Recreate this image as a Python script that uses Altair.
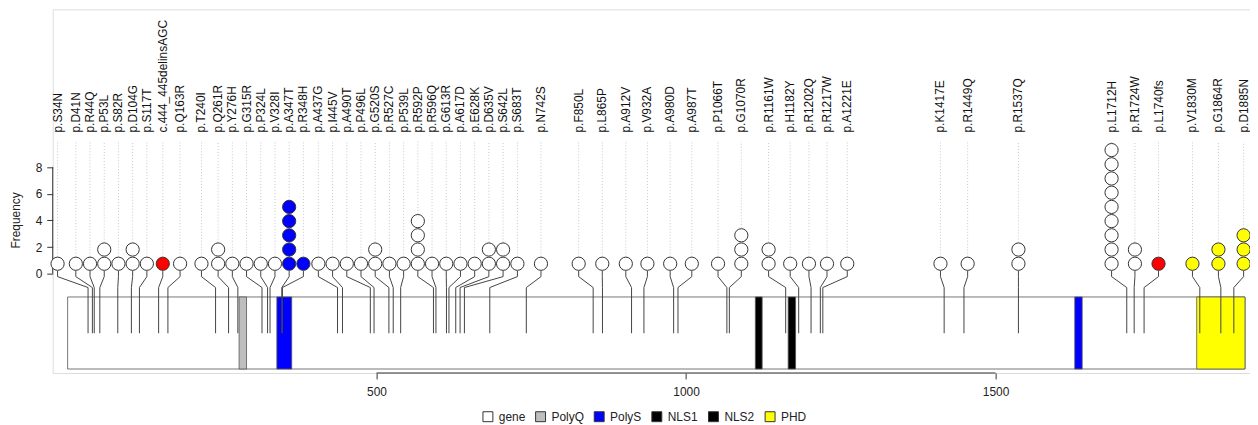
import altair as alt
import pandas as pd

# ---------------- data ----------------
labels = ["p.S34N", "p.D41N", "p.R44Q", "p.P53L", "p.S82R", "p.D104G", "p.S117T",
          "c.444_445delinsAGC", "p.Q163R", "p.T240I", "p.Q261R", "p.Y276H", "p.G315R",
          "p.P324L", "p.V328I", "p.A347T", "p.R348H", "p.A437G", "p.I445V", "p.A490T",
          "p.P496L", "p.G520S", "p.R527C", "p.P539L", "p.R592P", "p.R596Q", "p.G613R",
          "p.A617D", "p.E628K", "p.D635V", "p.S642L", "p.S683T", "p.N742S", "p.F850L",
          "p.L865P", "p.A912V", "p.V932A", "p.A980D", "p.A987T", "p.P1066T", "p.G1070R",
          "p.R1161W", "p.H1182Y", "p.R1202Q", "p.R1217W", "p.A1221E", "p.K1417E",
          "p.R1449Q", "p.R1537Q", "p.L1712H", "p.R1724W", "p.L1740fs", "p.V1830M",
          "p.G1864R", "p.D1885N"]
positions = [34, 41, 44, 53, 82, 104, 117, 148, 163, 240, 261, 276, 315, 324, 328, 347,
             348, 437, 445, 490, 496, 520, 527, 539, 592, 596, 613, 617, 628, 635, 642,
             683, 742, 850, 865, 912, 932, 980, 987, 1066, 1070, 1161, 1182, 1202, 1217,
             1221, 1417, 1449, 1537, 1712, 1724, 1740, 1830, 1864, 1885]
counts = [1, 1, 1, 2, 1, 2, 1, 1, 1, 1, 2, 1, 1, 1, 1, 5, 1, 1, 1, 1, 1, 2, 1, 1, 4, 1,
          1, 1, 1, 2, 2, 1, 1, 1, 1, 1, 1, 1, 1, 1, 3, 2, 1, 1, 1, 1, 1, 1, 2, 9, 2, 1,
          1, 2, 3]

domain_names = ["gene", "PolyQ", "PolyS", "PolyS", "NLS1", "NLS2", "PHD"]
domain_starts = [1, 278, 339, 1628, 1112, 1165, 1825]
domain_ends = [1903, 290, 363, 1640, 1123, 1177, 1903]

legend_names = ["gene", "PolyQ", "PolyS", "NLS1", "NLS2", "PHD"]
legend_colors = ["#FFFFFF", "#BEBEBE", "#0000FF", "#000000", "#000000", "#FFFF00"]
truncating_color = "#FF0000"

x_ticks = [500, 1000, 1500]
y_ticks = [0, 2, 4, 6, 8]

# ---------------- layout ----------------
W, H = 1205, 366
X_DOMAIN = [-23.1, 1911.1]
Y_DOMAIN = [-7.477, 19.888]
PX_X = W / (X_DOMAIN[1] - X_DOMAIN[0])
PX_Y = H / (Y_DOMAIN[1] - Y_DOMAIN[0])

DIAM = 14.3        # circle diameter (px)
BASE = 2.8         # px above 0 where first circle sits
KNEE1 = -3.0
KNEE2 = -14.0
RECT_TOP = -23.5
RECT_BOT = -96.0
LINE_BOT = -60.0
DOT_TOP = 133.0
LABEL_Y = 142.0


def fy(px):
    return px / PX_Y


def spread(ideal, sep):
    """least-squares placement keeping neighbours at least `sep` apart"""
    z = [v - i * sep for i, v in enumerate(ideal)]
    blocks = []
    for v in z:
        blocks.append([v, 1])
        while len(blocks) > 1 and blocks[-2][0] / blocks[-2][1] > blocks[-1][0] / blocks[-1][1]:
            s, c = blocks.pop()
            blocks[-1][0] += s
            blocks[-1][1] += c
    out = []
    for s, c in blocks:
        out += [s / c] * c
    return [o + i * sep for i, o in enumerate(out)]


def relax(ideal, d, lam=3.0, iters=9000, eta=0.035):
    """hard minimum gap d, soft preferred gap 2d"""
    p = spread(ideal, d)
    n = len(p)
    for _ in range(iters):
        grad = [2 * (p[i] - ideal[i]) for i in range(n)]
        for i in range(n - 1):
            v = 2 * d - (p[i + 1] - p[i])
            if v > 0:
                grad[i] += 2 * lam * v
                grad[i + 1] -= 2 * lam * v
        p = spread([p[i] - eta * grad[i] for i in range(n)], d)
    return p


slot_x = relax(positions, DIAM / PX_X)
color_of = dict(zip(legend_names, legend_colors))


def fill_for(label, pos):
    if label.startswith("c.") or label.endswith("fs"):
        return truncating_color
    for n, s, e in zip(domain_names[1:], domain_starts[1:], domain_ends[1:]):
        if s <= pos <= e:
            return color_of[n]
    return "#FFFFFF"


stem_rows, circ_rows, dot_rows, lab_rows = [], [], [], []
for i, (lab, pos, n) in enumerate(zip(labels, positions, counts)):
    sx = slot_x[i]
    pts = [(sx, BASE), (sx, KNEE1), (pos, KNEE2), (pos, LINE_BOT)]
    for j, (xx, yy) in enumerate(pts):
        stem_rows.append({"id": i, "o": j, "x": xx, "y": fy(yy)})
    col = fill_for(lab, pos)
    for k in range(1, n + 1):
        circ_rows.append({"id": i, "x": sx, "y": fy(BASE + (k - 0.5) * DIAM), "fill": col})
    dot_rows.append({"x": sx, "y": fy(BASE + n * DIAM), "y2": fy(DOT_TOP)})
    lab_rows.append({"x": sx, "y": fy(LABEL_Y), "label": lab})

stems = pd.DataFrame(stem_rows)
circs = pd.DataFrame(circ_rows)
dots = pd.DataFrame(dot_rows)
labs = pd.DataFrame(lab_rows)
doms = pd.DataFrame({"name": domain_names, "start": domain_starts, "end": domain_ends,
                     "y0": fy(RECT_TOP), "y1": fy(RECT_BOT)})
xaxis_line = pd.DataFrame({"x": [min(x_ticks)], "x2": [max(x_ticks)], "y": [Y_DOMAIN[0]]})
yaxis_line = pd.DataFrame({"x": [X_DOMAIN[0]], "y": [min(y_ticks)], "y2": [max(y_ticks)]})

XS = alt.Scale(domain=X_DOMAIN, nice=False, zero=False)
YS = alt.Scale(domain=Y_DOMAIN, nice=False, zero=False)
XAX = alt.Axis(values=x_ticks, domain=False, grid=False, title=None, tickSize=6,
               labelPadding=8, labelFontSize=12, tickColor="#333333", labelColor="#222222",
               format="d")
YAX = alt.Axis(values=y_ticks, domain=False, grid=False, title="Frequency", tickSize=6,
               labelPadding=5, labelFontSize=12, tickColor="#333333", labelColor="#222222",
               titleFontSize=12, titleFontWeight="normal", titleColor="#222222",
               titleX=-37, titleY=212, titleBaseline="middle", titleAngle=270)

base_axes = alt.Chart(yaxis_line).mark_rule(color="#333333", strokeWidth=1).encode(
    x=alt.X("x:Q", scale=XS, axis=XAX),
    y=alt.Y("y:Q", scale=YS, axis=YAX),
    y2="y2:Q",
)
xline = alt.Chart(xaxis_line).mark_rule(color="#333333", strokeWidth=1).encode(
    x=alt.X("x:Q", scale=XS, axis=XAX),
    x2="x2:Q",
    y=alt.Y("y:Q", scale=YS, axis=YAX),
)

rects = alt.Chart(doms).mark_rect(stroke="#555555", strokeWidth=0.8).encode(
    x=alt.X("start:Q", scale=XS, axis=XAX),
    x2="end:Q",
    y=alt.Y("y0:Q", scale=YS, axis=YAX),
    y2="y1:Q",
    fill=alt.Fill("name:N", scale=alt.Scale(domain=legend_names, range=legend_colors),
                  legend=alt.Legend(orient="none", direction="horizontal", columns=6,
                                    legendX=432, legendY=404, title=None,
                                    symbolType="square", symbolSize=100,
                                    symbolStrokeColor="#333333", symbolStrokeWidth=1,
                                    labelFontSize=12, labelColor="#222222",
                                    columnPadding=8, labelOffset=5)),
)

stem = alt.Chart(stems).mark_line(color="#444444", strokeWidth=1).encode(
    x=alt.X("x:Q", scale=XS, axis=XAX),
    y=alt.Y("y:Q", scale=YS, axis=YAX),
    detail="id:N",
    order="o:Q",
)

dotted = alt.Chart(dots).mark_rule(color="#C8C8C8", strokeWidth=1, strokeDash=[1, 2]).encode(
    x=alt.X("x:Q", scale=XS, axis=XAX),
    y=alt.Y("y:Q", scale=YS, axis=YAX),
    y2="y2:Q",
)

circles = alt.Chart(circs).mark_circle(size=(DIAM - 1) ** 2, stroke="#333333",
                                       strokeWidth=1, opacity=1, fillOpacity=1).encode(
    x=alt.X("x:Q", scale=XS, axis=XAX),
    y=alt.Y("y:Q", scale=YS, axis=YAX),
    fill=alt.Fill("fill:N", scale=None, legend=None),
)

texts = alt.Chart(labs).mark_text(angle=270, align="left", baseline="middle",
                                  fontSize=12, color="#111111").encode(
    x=alt.X("x:Q", scale=XS, axis=XAX),
    y=alt.Y("y:Q", scale=YS, axis=YAX),
    text="label:N",
)

chart = alt.layer(base_axes, xline, rects, dotted, stem, circles, texts).resolve_scale(
    fill="independent"
).properties(
    width=W, height=H,
    autosize=alt.AutoSizeParams(type="none"),
    padding={"left": 45, "top": 0, "right": 0, "bottom": 51},
    background="white",
).configure_view(stroke=None).configure(
    font="Liberation Sans"
)

chart.save("out.html", embed_options={"renderer": "svg", "actions": False})
